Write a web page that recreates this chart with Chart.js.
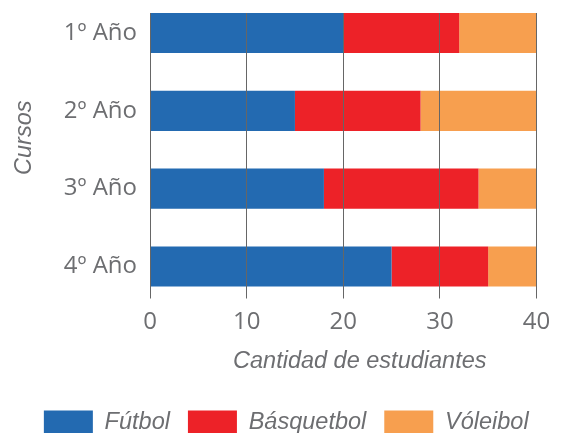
<!DOCTYPE html>
<html>
<head>
<meta charset="utf-8">
<script src="https://cdn.jsdelivr.net/npm/chart.js@4"></script>
<style>
  html, body { margin: 0; padding: 0; background: #ffffff; }
  #wrap { width: 562px; height: 433px; }
</style>
</head>
<body>
<div id="wrap"><canvas id="c" width="562" height="433"></canvas></div>
<script>
const categories = ['1º Año', '2º Año', '3º Año', '4º Año'];
const seriesNames = ['Fútbol', 'Básquetbol', 'Vóleibol'];
const futbol = [20, 15, 18, 25];
const basquetbol = [12, 13, 16, 10];
const voleibol = [8, 12, 6, 5];
const xMin = 0, xMax = 40, xStep = 10;

const colors = ['#236ab1', '#ed2228', '#f79f4f'];
const gray = '#6d6e71';
const italicFont = { family: "'Liberation Sans', Arial, sans-serif", style: 'italic', size: 23.5 };
const tickFont = { family: "'Open Sans', sans-serif", size: 24 };

const toPoints = arr => arr.map((v, i) => ({ x: v, y: i }));

// Moves the axis titles / legend to where the reference puts them;
// the y-scale bound is restored before the bars are drawn so clipping is unaffected.
const Y_TITLE_SHIFT = 28;
const shiftPlugin = {
  id: 'shift',
  afterLayout(chart) {
    chart.scales.y.bottom -= Y_TITLE_SHIFT;
    chart.$yShifted = true;
    chart.scales.x.right += 33;
    chart.legend.left += 18;
    chart.legend.right += 18;
  },
  beforeDatasetsDraw(chart) {
    if (chart.$yShifted) {
      chart.scales.y.bottom += Y_TITLE_SHIFT;
      chart.$yShifted = false;
    }
  }
};

new Chart(document.getElementById('c'), {
  type: 'bar',
  data: {
    datasets: [
      { label: seriesNames[0], data: toPoints(futbol), backgroundColor: colors[0] },
      { label: seriesNames[1], data: toPoints(basquetbol), backgroundColor: colors[1] },
      { label: seriesNames[2], data: toPoints(voleibol), backgroundColor: colors[2] }
    ]
  },
  options: {
    indexAxis: 'y',
    responsive: false,
    animation: false,
    events: [],
    devicePixelRatio: 1,
    layout: { padding: { top: 13, left: 0, right: 25.5, bottom: -10.75 } },
    datasets: { bar: { barPercentage: 0.515, categoryPercentage: 1, borderWidth: 0 } },
    scales: {
      x: {
        type: 'linear',
        stacked: true,
        min: xMin, max: xMax,
        ticks: { stepSize: xStep, color: gray, font: tickFont, padding: 9 },
        grid: { z: 1, color: '#666666', lineWidth: 1, drawTicks: true, tickLength: 8, tickColor: '#666666' },
        border: { display: false },
        title: { display: true, text: 'Cantidad de estudiantes', color: gray, font: italicFont, padding: { top: 2, bottom: 16.75 } }
      },
      y: {
        type: 'linear',
        stacked: true,
        reverse: true,
        offset: false,
        min: -0.2575, max: 3.309,
        afterBuildTicks: s => { s.ticks = categories.map((_, i) => ({ value: i })); },
        afterFit: s => { s.width = 150; s.paddingTop = 0; s.paddingBottom = 0; },
        ticks: { color: gray, font: tickFont, padding: 13, callback: v => categories[v] },
        grid: { display: false, drawTicks: false, offset: false },
        border: { display: false },
        title: { display: true, text: 'Cursos', color: gray, font: italicFont, padding: { top: 10, bottom: 0 } }
      }
    },
    plugins: {
      legend: {
        position: 'bottom',
        labels: { boxWidth: 49, boxHeight: 23, padding: 18, color: gray, font: italicFont }
      },
      tooltip: { enabled: false }
    }
  },
  plugins: [shiftPlugin]
});
</script>
</body>
</html>
